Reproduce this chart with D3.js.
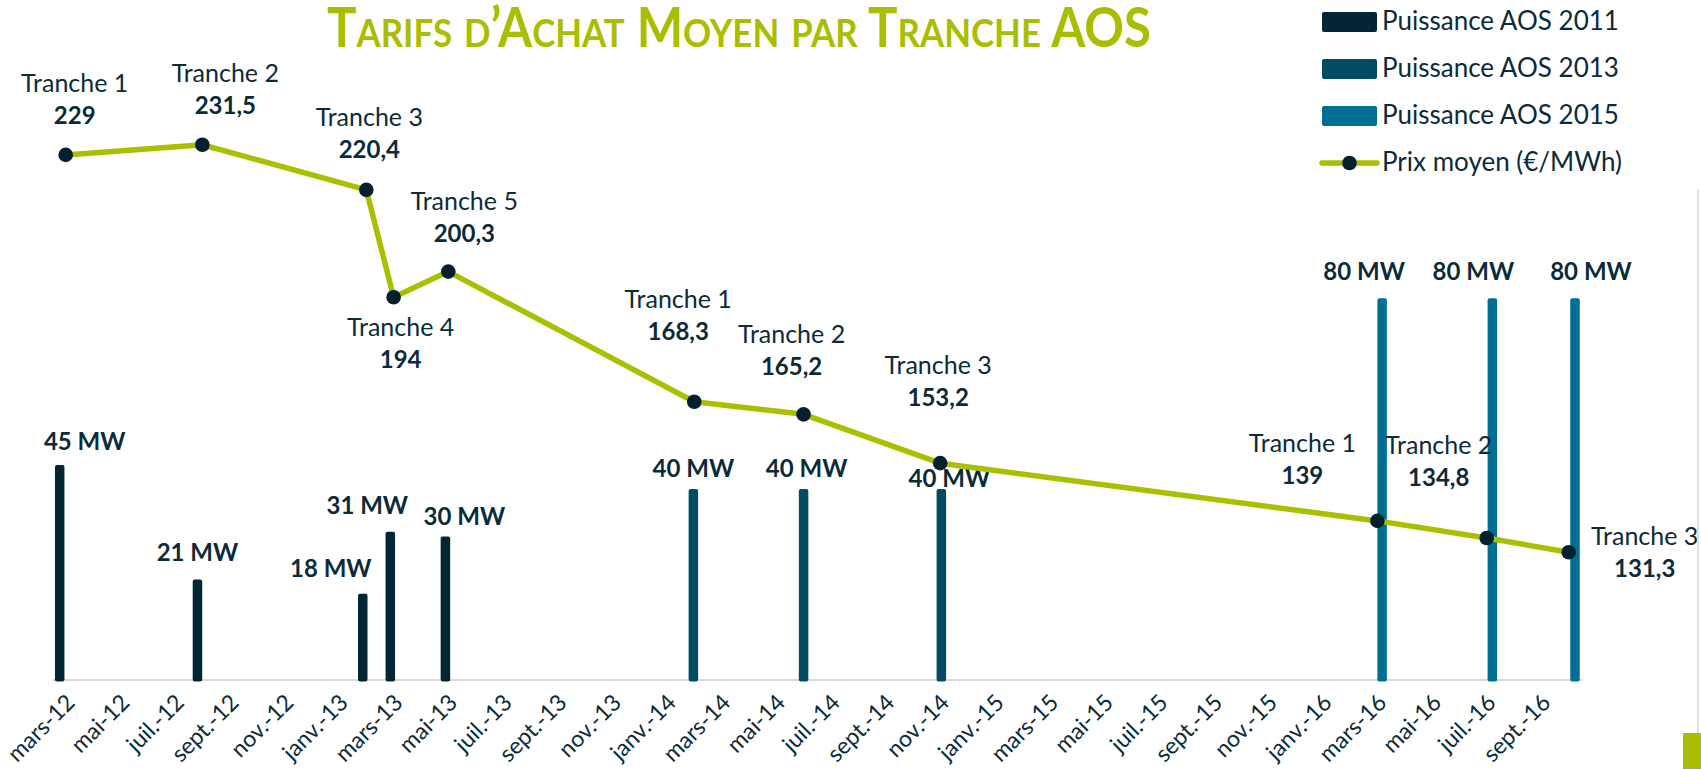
<!DOCTYPE html>
<html>
<head>
<meta charset="utf-8">
<script src="https://cdn.jsdelivr.net/npm/d3@7"></script>
<style>
  body { margin: 0; background: #fff; }
  svg { display: block; font-family: "Lato", "Open Sans", sans-serif; }
</style>
</head>
<body>
<div id="my_dataviz"></div>
<script>
// Canvas size
var width = 1701,
    height = 769;

// Bars (MW) per call for tenders
var dates2011 = ["2012-03", "2012-08", "2013-02", "2013-03", "2013-05"];
var power2011 = [45, 21, 18, 31, 30];
var dates2013 = ["2014-02", "2014-06", "2014-11"];
var power2013 = [40, 40, 40];
var dates2015 = ["2016-03", "2016-07", "2016-10"];
var power2015 = [80, 80, 80];

// Average price line (EUR/MWh)
var priceDates = ["2012-03", "2012-08", "2013-02", "2013-03", "2013-05", "2014-02", "2014-06", "2014-11", "2016-03", "2016-07", "2016-10"];
var priceValues = [229, 231.5, 220.4, 194, 200.3, 168.3, 165.2, 153.2, 139, 134.8, 131.3];
var priceNames = ["Tranche 1", "Tranche 2", "Tranche 3", "Tranche 4", "Tranche 5", "Tranche 1", "Tranche 2", "Tranche 3", "Tranche 1", "Tranche 2", "Tranche 3"];

// Axis labels (one every two months)
var tickLabels = ["mars-12", "mai-12", "juil.-12", "sept.-12", "nov.-12", "janv.-13", "mars-13", "mai-13", "juil.-13", "sept.-13", "nov.-13", "janv.-14", "mars-14", "mai-14", "juil.-14", "sept.-14", "nov.-14", "janv.-15", "mars-15", "mai-15", "juil.-15", "sept.-15", "nov.-15", "janv.-16", "mars-16", "mai-16", "juil.-16", "sept.-16"];

var seriesNames = ["Puissance AOS 2011", "Puissance AOS 2013", "Puissance AOS 2015"];
var lineName = "Prix moyen (€/MWh)";

// Manual label nudges (dx, dy), like the moved labels of the original
var barLabelNudge = [[25, -15], [0, -18], [-32, -17], [-23, -18], [19, -12], [0, -12], [3, -12], [8, -2], [-18, -18], [-19, -18], [16, -18]];
var priceLabelNudge = [[9, -63], [23, -63], [3, -64], [7, 39], [16, -62], [-16, -94], [-12, -71], [-2, -89], [-75, -69], [-48, -84], [76, -7]];

var colors = ["#022633", "#034b63", "#006f93"];
var lineColor = "#a9c000";
var textColor = "#0b2b38";

var svg = d3.select("#my_dataviz")
    .append("svg")
    .attr("width", width)
    .attr("height", height);

// month keys from mars-12 to oct.-16
var fmt = d3.timeFormat("%Y-%m");
var months = d3.timeMonth.range(new Date(2012, 2, 1), new Date(2016, 10, 1)).map(fmt);

// bars and line sit on two slightly different date axes
var xBar = d3.scalePoint().domain(months).range([59.7, 1575]);
var xLine = d3.scalePoint().domain(months).range([65.7, 1568.7]);
var yBar = d3.scaleLinear().domain([0, 128]).range([679.5, 69.5]);
var yLine = d3.scaleLinear().domain([100, 250]).range([679.5, 69.5]);

// Title
svg.append("text")
    .attr("x", 739)
    .attr("y", 47)
    .attr("text-anchor", "middle")
    .attr("textLength", 824)
    .attr("lengthAdjust", "spacingAndGlyphs")
    .style("font-size", "55px")
    .style("font-weight", "bold")
    .style("font-variant", "small-caps")
    .style("fill", "#a9be00")
    .text("Tarifs d’Achat Moyen par Tranche AOS");

// Axis
var tickKeys = months.filter(function(d, i) { return i % 2 === 0 && i < 55; });
var axis = svg.append("g")
    .attr("transform", "translate(0,680)")
    .call(d3.axisBottom(xLine).tickValues(tickKeys).tickSize(0).tickFormat(function(d, i) { return tickLabels[i]; }));
axis.select(".domain").remove();
axis.attr("font-size", null).attr("font-family", null);
axis.selectAll("text")
    .attr("x", 0).attr("y", 0).attr("dy", null)
    .attr("transform", "translate(10,24) rotate(-45)")
    .attr("text-anchor", "end")
    .attr("font-size", 23)
    .attr("fill", textColor);

svg.append("line")
    .attr("x1", xBar.range()[0] - 7)
    .attr("x2", xBar.range()[1] + 7)
    .attr("y1", 680).attr("y2", 680)
    .style("stroke", "#d9d9d9")
    .style("stroke-width", 2);

// Bars
var bars = [];
[[dates2011, power2011], [dates2013, power2013], [dates2015, power2015]].forEach(function(s, k) {
    s[0].forEach(function(d, i) { bars.push({ date: d, value: s[1][i], series: k }); });
});

svg.selectAll(".bar")
    .data(bars)
    .enter()
    .append("rect")
    .attr("class", "bar")
    .attr("x", function(d) { return xBar(d.date) - 4.75; })
    .attr("y", function(d) { return yBar(d.value); })
    .attr("width", 9.5)
    .attr("height", function(d) { return yBar(0) - yBar(d.value) + 2; })
    .attr("rx", 2)
    .style("fill", function(d) { return colors[d.series]; });

svg.selectAll(".barLabel")
    .data(bars)
    .enter()
    .append("text")
    .attr("class", "barLabel")
    .attr("x", function(d, i) { return xBar(d.date) + barLabelNudge[i][0]; })
    .attr("y", function(d, i) { return yBar(d.value) + barLabelNudge[i][1]; })
    .attr("text-anchor", "middle")
    .style("font-size", "24px")
    .style("font-weight", "bold")
    .style("fill", textColor)
    .text(function(d) { return d.value + " MW"; });

// Price line
var points = priceDates.map(function(d, i) { return { date: d, value: priceValues[i], name: priceNames[i] }; });

svg.append("path")
    .datum(points)
    .attr("d", d3.line()
        .x(function(d) { return xLine(d.date); })
        .y(function(d) { return yLine(d.value); }))
    .style("fill", "none")
    .style("stroke", lineColor)
    .style("stroke-width", 5.5)
    .style("stroke-linejoin", "round");

svg.selectAll(".dot")
    .data(points)
    .enter()
    .append("circle")
    .attr("cx", function(d) { return xLine(d.date); })
    .attr("cy", function(d) { return yLine(d.value); })
    .attr("r", 7.3)
    .style("fill", "#03212d");

var priceLabels = svg.selectAll(".priceLabel")
    .data(points)
    .enter()
    .append("g")
    .attr("transform", function(d, i) {
        return "translate(" + (xLine(d.date) + priceLabelNudge[i][0]) + "," + (yLine(d.value) + priceLabelNudge[i][1]) + ")";
    })
    .attr("text-anchor", "middle")
    .style("fill", textColor)
    .style("font-size", "25px");

priceLabels.append("text").text(function(d) { return d.name; });
priceLabels.append("text")
    .attr("y", 32)
    .style("font-weight", "bold")
    .style("font-size", "24px")
    .text(function(d) { return String(d.value).replace(".", ","); });

// Legend
var legend = svg.append("g").attr("transform", "translate(1322,0)");
seriesNames.forEach(function(name, i) {
    legend.append("rect")
        .attr("x", 0).attr("y", 12 + i * 47)
        .attr("width", 55).attr("height", 20)
        .attr("rx", 2)
        .style("fill", colors[i]);
    legend.append("text")
        .attr("x", 60).attr("y", 30 + i * 47)
        .style("font-size", "26px")
        .style("fill", textColor)
        .text(name);
});
legend.append("line")
    .attr("x1", 0).attr("x2", 55)
    .attr("y1", 163).attr("y2", 163)
    .style("stroke", lineColor)
    .style("stroke-width", 5.5)
    .style("stroke-linecap", "round");
legend.append("circle")
    .attr("cx", 27.5).attr("cy", 163).attr("r", 7.3)
    .style("fill", "#03212d");
legend.append("text")
    .attr("x", 60).attr("y", 171)
    .style("font-size", "26px")
    .style("fill", textColor)
    .text(lineName);

// Slide decorations at the right edge
svg.append("line")
    .attr("x1", 1698).attr("x2", 1698)
    .attr("y1", 190).attr("y2", 733)
    .style("stroke", "#d4d4d4")
    .style("stroke-width", 1.5);
svg.append("rect")
    .attr("x", 1683).attr("y", 733)
    .attr("width", 18).attr("height", 36)
    .style("fill", "#a9be00");
</script>
</body>
</html>
